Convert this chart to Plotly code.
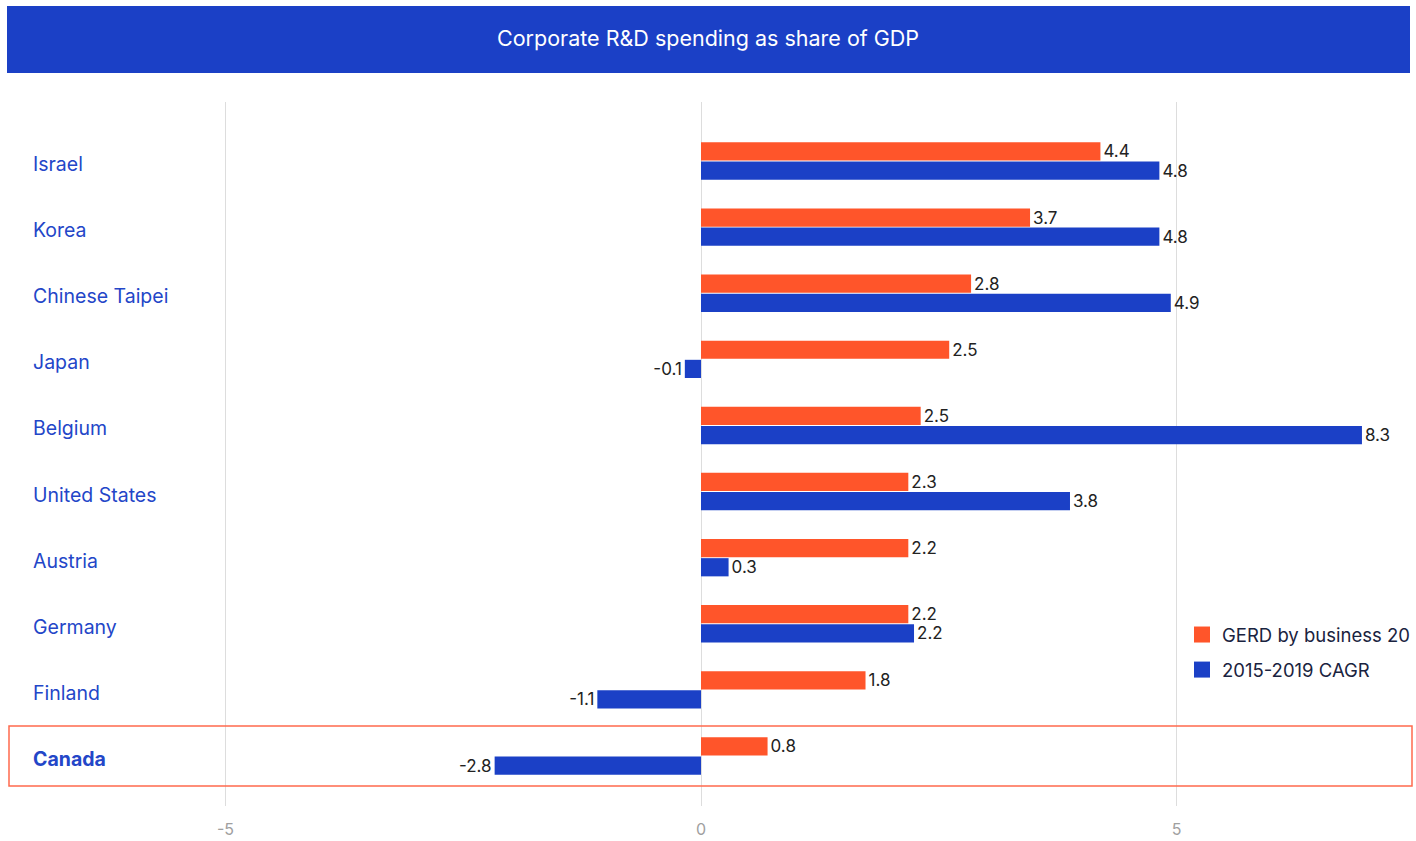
import plotly.graph_objects as go

countries = ["Israel", "Korea", "Chinese Taipei", "Japan", "Belgium",
             "United States", "Austria", "Germany", "Finland", "Canada"]
# bar lengths as drawn in the picture
gerd_values = [4.20, 3.46, 2.84, 2.61, 2.31, 2.18, 2.18, 2.18, 1.73, 0.70]
cagr_values = [4.82, 4.82, 4.94, -0.17, 6.95, 3.88, 0.29, 2.24, -1.09, -2.17]
# value labels as printed on the bars
gerd_labels = ["4.4", "3.7", "2.8", "2.5", "2.5", "2.3", "2.2", "2.2", "1.8", "0.8"]
cagr_labels = ["4.8", "4.8", "4.9", "-0.1", "8.3", "3.8", "0.3", "2.2", "-1.1", "-2.8"]
# legend names as visible in the reference (first one is cut at the page edge there)
series_names = ["GERD by business 20", "2015-2019 CAGR"]
x_ticks = [-5, 0, 5]
title_text = "Corporate R&D spending as share of GDP"
highlight = "Canada"

ORANGE = "#FF552A"
BLUE = "#1B40C6"
LABEL_BLUE = "#2346C8"
FONT = "Inter, Roboto, Arial, sans-serif"

W, H = 1416, 841
L, R, T, B = 9, 1412, 102, 806
pw, ph = R - L, B - T

def px_x(p):
    return (p - L) / pw

def px_y(p):
    return (B - p) / ph

idx = list(range(len(countries)))

fig = go.Figure()
fig.add_trace(go.Bar(
    y=idx, x=gerd_values, orientation="h", name=series_names[0],
    marker=dict(color=ORANGE, line=dict(width=0)),
    text=gerd_labels, textposition="outside", cliponaxis=False, constraintext="none",
    textfont=dict(size=17, color="#222222", family=FONT),
    showlegend=False, hoverinfo="skip"))
fig.add_trace(go.Bar(
    y=idx, x=cagr_values, orientation="h", name=series_names[1],
    marker=dict(color=BLUE, line=dict(width=0)),
    text=cagr_labels, textposition="outside", cliponaxis=False, constraintext="none",
    textfont=dict(size=17, color="#222222", family=FONT),
    showlegend=False, hoverinfo="skip"))

# legend entries
for nm, col, grp in [(series_names[0], ORANGE, "a"), (series_names[1], BLUE, "b")]:
    fig.add_trace(go.Scatter(
        x=[None], y=[None], mode="markers", name=nm, legendgroup=grp,
        marker=dict(symbol="square", size=16, color=col)))

# x-axis: 0 at px 701, 95.1 px per unit
ppu = 95.1
x0 = (L - 701) / ppu
x1 = (R - 701) / ppu
# y-axis: index 0 center at 161, index 9 at 756
ppy = (756 - 161) / 9
y_top = -(161 - T) / ppy
y_bot = 9 + (B - 756) / ppy

shapes = [
    dict(type="rect", xref="paper", yref="paper",
         x0=px_x(7), x1=px_x(1410), y0=px_y(73), y1=px_y(6),
         fillcolor=BLUE, line=dict(width=0), layer="below"),
]
hi = countries.index(highlight)
shapes.append(dict(type="rect", xref="paper", yref="y",
                   x0=0, x1=1, y0=hi - 0.454, y1=hi + 0.454,
                   line=dict(color="#FF6A4D", width=1.5), fillcolor="rgba(0,0,0,0)"))

annotations = [dict(text=title_text, xref="paper", yref="paper",
                    x=px_x(708), y=px_y(38), showarrow=False,
                    font=dict(size=21.5, color="white", family=FONT),
                    xanchor="center", yanchor="middle")]
for i, c in enumerate(countries):
    txt = f"<b>{c}</b>" if c == highlight else c
    annotations.append(dict(text=txt, xref="paper", yref="y",
                            x=px_x(31), y=i, yshift=-3, showarrow=False,
                            xanchor="left", yanchor="middle",
                            font=dict(size=19.5, color=LABEL_BLUE, family=FONT)))

fig.update_layout(
    width=W, height=H,
    margin=dict(l=L, r=W - R, t=T, b=H - B, autoexpand=False),
    paper_bgcolor="white", plot_bgcolor="white",
    barmode="group", bargap=0.42, bargroupgap=0.05,
    font=dict(family=FONT),
    xaxis=dict(range=[x0, x1], tickvals=x_ticks, ticktext=[str(v) for v in x_ticks],
               showgrid=True, gridcolor="#DDDDDD", gridwidth=1,
               zeroline=True, zerolinecolor="#DDDDDD", zerolinewidth=1,
               showline=False, ticks="outside", ticklen=9, tickcolor="rgba(0,0,0,0)",
               tickfont=dict(size=16, color="#A0A0A0", family=FONT), fixedrange=True),
    yaxis=dict(range=[y_bot, y_top], showticklabels=False, showgrid=False,
               zeroline=False, showline=False, fixedrange=True),
    legend=dict(x=px_x(1182), y=px_y(616), xanchor="left", yanchor="top",
                traceorder="grouped", tracegroupgap=8, bgcolor="rgba(0,0,0,0)",
                font=dict(size=18.5, color="#1A2340", family=FONT)),
    shapes=shapes, annotations=annotations,
)

fig.write_html("out.html", config={"displayModeBar": False},
               post_script="document.body.style.margin='0';document.body.style.overflow='hidden';")
